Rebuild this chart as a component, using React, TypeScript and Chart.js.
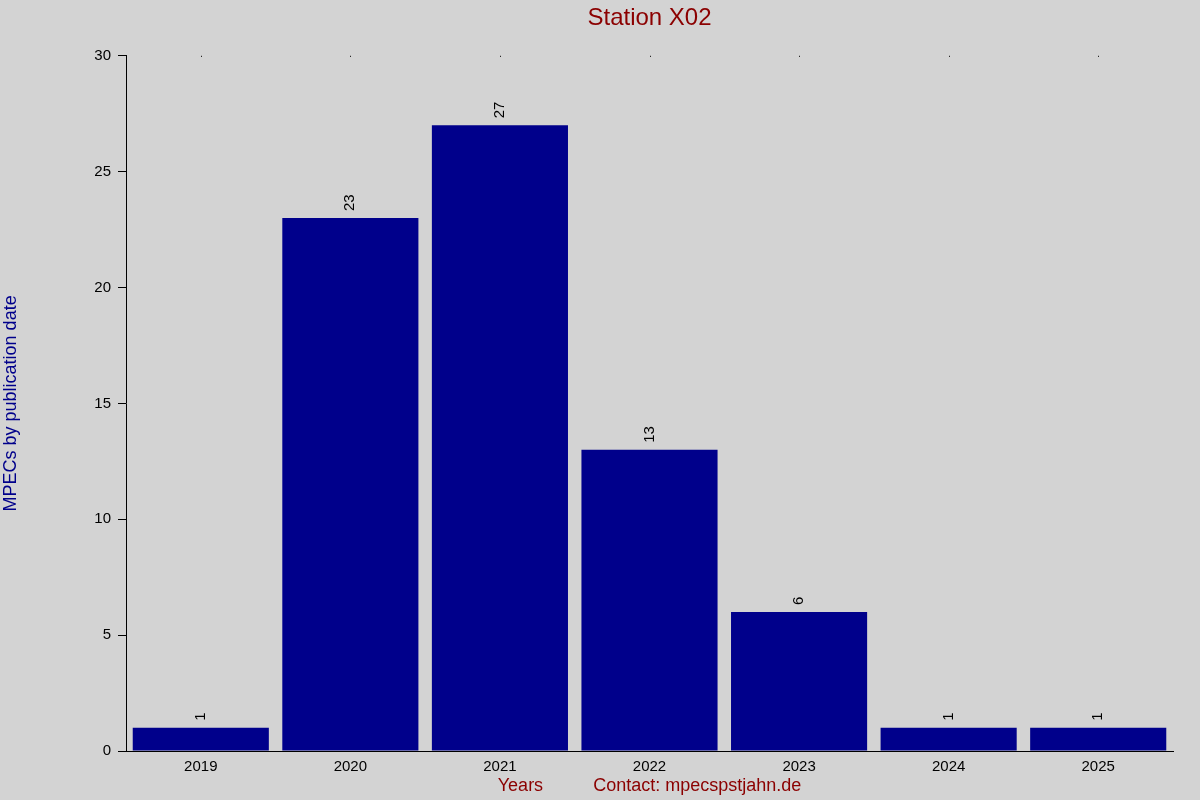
import { useEffect, useRef } from 'react'
import { Chart, registerables, ChartConfiguration, Plugin } from 'chart.js'

Chart.register(...registerables)

const years = ['2019', '2020', '2021', '2022', '2023', '2024', '2025']
const mpecCounts = [1, 23, 27, 13, 6, 1, 1]
const yTicks = [0, 5, 10, 15, 20, 25, 30]

const FONT = '"Liberation Sans", Arial, sans-serif'

// value labels above the bars, rotated
const barLabels: Plugin<'bar'> = {
  id: 'barLabels',
  afterDatasetsDraw(chart) {
    const ctx = chart.ctx
    const meta = chart.getDatasetMeta(0)
    ctx.save()
    ctx.fillStyle = '#000'
    ctx.font = `15px ${FONT}`
    ctx.textAlign = 'left'
    ctx.textBaseline = 'middle'
    meta.data.forEach((bar, i) => {
      ctx.save()
      ctx.translate(bar.x, bar.y - 7)
      ctx.rotate(-Math.PI / 2)
      ctx.fillText(String(mpecCounts[i]), 0, 0)
      ctx.restore()
    })
    ctx.restore()
  },
}

// tiny tick dots along the top of the plot area
const topDots: Plugin<'bar'> = {
  id: 'topDots',
  afterDraw(chart) {
    const ctx = chart.ctx
    const xs = chart.scales.x
    ctx.save()
    ctx.fillStyle = '#000'
    xs.ticks.forEach((_, i) => {
      const px = Math.round(xs.getPixelForTick(i))
      ctx.fillRect(px, chart.chartArea.top, 1, 1)
    })
    ctx.restore()
  },
}

export default function App() {
  const canvasRef = useRef<HTMLCanvasElement>(null)
  const chartInstance = useRef<Chart | null>(null)

  useEffect(() => {
    document.body.style.margin = '0'
    if (!canvasRef.current) return
    if (chartInstance.current) chartInstance.current.destroy()

    const config: ChartConfiguration<'bar'> = {
      type: 'bar',
      data: {
        labels: years,
        datasets: [
          {
            data: mpecCounts,
            backgroundColor: '#00008b',
            borderWidth: 0,
            barPercentage: 0.91,
            categoryPercentage: 1,
          },
        ],
      },
      options: {
        responsive: false,
        animation: false,
        layout: { padding: { left: 0, right: 27, top: 0, bottom: 0 } },
        plugins: {
          legend: { display: false },
          tooltip: { enabled: false },
          title: {
            display: true,
            fullSize: false,
            text: 'Station X02',
            color: '#8b0000',
            font: { family: FONT, size: 24, weight: 'normal' },
            padding: { top: 4, bottom: 23 },
          },
        },
        scales: {
          x: {
            afterFit: (scale) => {
              scale.height = 49
            },
            grid: { drawOnChartArea: false, drawTicks: false },
            border: { display: true, color: '#000', width: 1 },
            ticks: {
              color: '#000',
              padding: 7,
              font: { family: FONT, size: 15 },
            },
            title: {
              display: true,
              text: 'Years          Contact: mpecspstjahn.de',
              color: '#8b0000',
              font: { family: FONT, size: 18 },
              padding: { top: 0, bottom: 3 },
            },
          },
          y: {
            min: 0,
            max: 30,
            afterFit: (scale) => {
              scale.width = 126
            },
            afterBuildTicks: (scale) => {
              scale.ticks = yTicks.map((v) => ({ value: v }))
            },
            grid: {
              drawOnChartArea: false,
              drawTicks: true,
              tickLength: 8,
              color: '#000',
            },
            border: { display: true, color: '#000', width: 1 },
            ticks: {
              color: '#000',
              padding: 7,
              font: { family: FONT, size: 15 },
            },
            title: {
              display: true,
              text: 'MPECs by publication date',
              color: '#00008b',
              font: { family: FONT, size: 18 },
              padding: { top: 0, bottom: 0 },
            },
          },
        },
      },
      plugins: [barLabels, topDots],
    }

    chartInstance.current = new Chart(canvasRef.current, config)

    return () => {
      if (chartInstance.current) {
        chartInstance.current.destroy()
        chartInstance.current = null
      }
    }
  }, [])

  return (
    <div style={{ width: 1200, height: 800, background: '#d3d3d3' }}>
      <canvas ref={canvasRef} width={1200} height={800} style={{ display: 'block' }} />
    </div>
  )
}
